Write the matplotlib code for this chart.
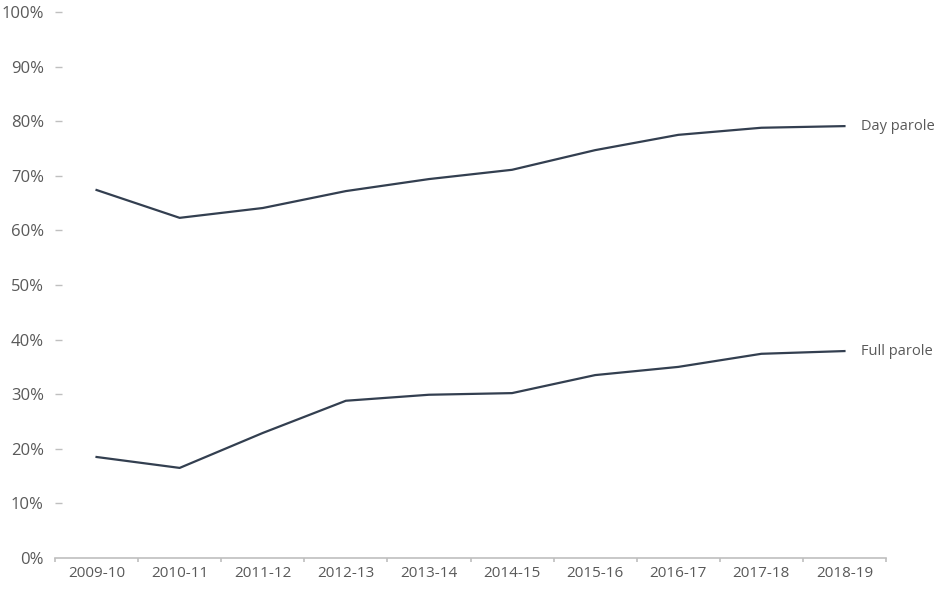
import numpy as np
import matplotlib.pyplot as plt

years = ["2009-10", "2010-11", "2011-12", "2012-13", "2013-14",
         "2014-15", "2015-16", "2016-17", "2017-18", "2018-19"]
day_parole = [67.4, 62.3, 64.1, 67.2, 69.4, 71.1, 74.7, 77.5, 78.8, 79.1]
full_parole = [18.5, 16.5, 22.9, 28.8, 29.9, 30.2, 33.5, 35.0, 37.4, 37.9]

line_color = "#333f50"
text_color = "#595959"
axis_color = "#bfbfbf"

plt.rcParams['font.family'] = ['Open Sans', 'DejaVu Sans']

fig = plt.figure(figsize=(9.43, 5.93), dpi=100)
ax = fig.add_axes([55 / 943, 35 / 593, 831 / 943, 546 / 593])

x = np.arange(len(years))
ax.plot(x, day_parole, color=line_color, lw=1.6)
ax.plot(x, full_parole, color=line_color, lw=1.6)

ax.text(x[-1] + 0.2, day_parole[-1], "Day parole", va="center", ha="left",
        fontsize=10.5, color=text_color)
ax.text(x[-1] + 0.2, full_parole[-1], "Full parole", va="center", ha="left",
        fontsize=10.5, color=text_color)

ax.set_xlim(-0.5, len(years) - 0.5)
ax.set_ylim(0, 100)
ax.set_yticks(range(0, 101, 10))
ax.set_yticklabels([f"{v}%" for v in range(0, 101, 10)], fontsize=12, color=text_color)
ax.set_xticks(x)
ax.set_xticklabels(years, fontsize=11, color=text_color)
ax.set_xticks(np.arange(-0.5, len(years), 1), minor=True)

for s in ["top", "right", "left"]:
    ax.spines[s].set_visible(False)
ax.spines["bottom"].set_color(axis_color)
ax.spines["bottom"].set_linewidth(1.2)

ax.tick_params(axis="x", which="major", length=0, pad=6)
ax.tick_params(axis="x", which="minor", length=3, color=axis_color, width=1.2, direction="out")
ax.tick_params(axis="y", length=5, color=axis_color, width=1, direction="in", pad=8)
for t in ax.yaxis.get_major_ticks()[:1]:
    t.tick1line.set_visible(False)

fig.savefig("out.png", dpi=100)
